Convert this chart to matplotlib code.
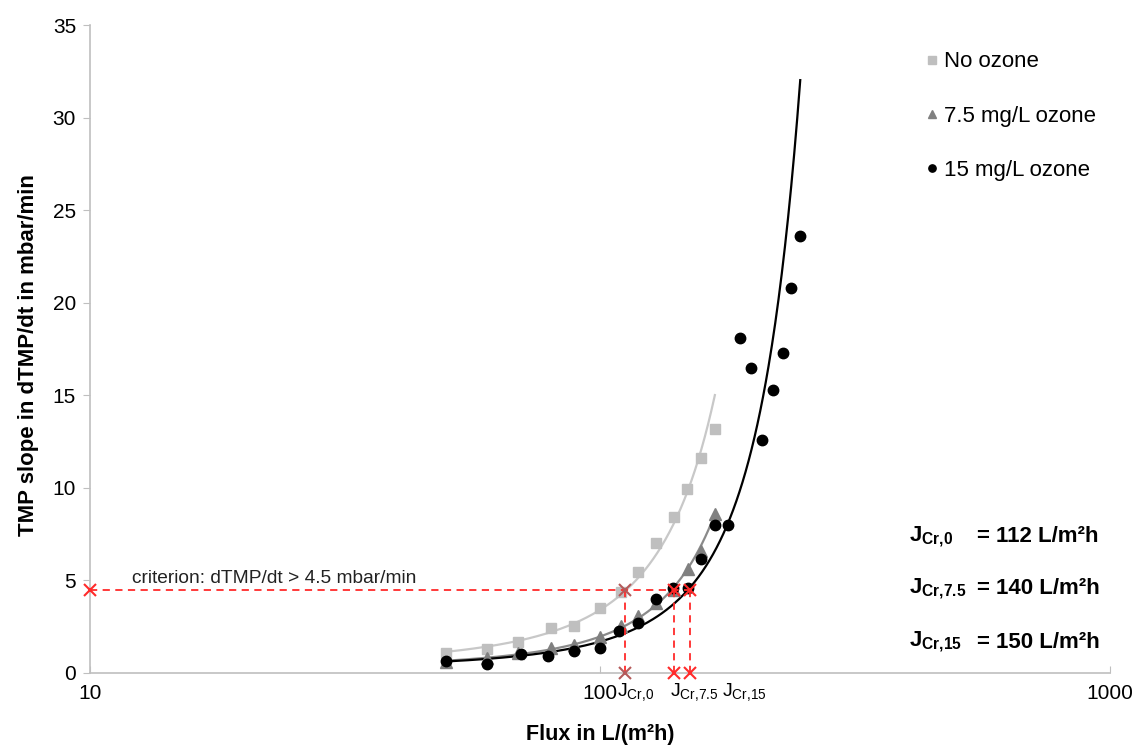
import numpy as np
import matplotlib
matplotlib.use("Agg")
import matplotlib.pyplot as plt
from matplotlib.transforms import blended_transform_factory

plt.rcParams['font.family'] = ['Liberation Sans', 'DejaVu Sans']
plt.rcParams['mathtext.fontset'] = 'custom'
plt.rcParams['mathtext.rm'] = 'Liberation Sans'
plt.rcParams['mathtext.it'] = 'Liberation Sans'
plt.rcParams['mathtext.bf'] = 'Liberation Sans:bold'

# --- data ---
flux_no = [50, 60, 69, 80, 89, 100, 110, 119, 129, 140, 148, 158, 168]
tmp_no = [1.1, 1.3, 1.7, 2.45, 2.55, 3.5, 4.4, 5.45, 7.0, 8.4, 9.95, 11.6, 13.2]

flux_75 = [50, 60, 69, 80, 89, 100, 110, 119, 129, 140, 149, 158, 168]
tmp_75 = [0.6, 0.8, 1.1, 1.35, 1.5, 1.95, 2.55, 3.1, 3.8, 4.5, 5.6, 6.6, 8.6]

flux_15 = [50, 60, 70, 79, 89, 100, 109, 119, 129, 139, 149, 158, 168, 178,
           188, 198, 208, 218, 228, 237, 247]
tmp_15 = [0.65, 0.49, 1.03, 0.92, 1.19, 1.34, 2.25, 2.69, 3.98, 4.58, 4.58,
          6.15, 8.0, 8.0, 18.1, 16.45, 12.6, 15.3, 17.3, 20.8, 23.6]

criterion = 4.5
j_crit = [112, 140, 150]
j_names = ["0", "7.5", "15"]

x_ticks = [10, 100, 1000]
y_ticks = [0, 5, 10, 15, 20, 25, 30, 35]

fig = plt.figure(figsize=(11.39, 7.49), dpi=100)
ax = fig.add_axes([0.079, 0.1015, 0.8955, 0.8651])
ax.set_xscale('log')
ax.set_xlim(10, 1000)
ax.set_ylim(0, 35)


def exp_fit(x, y, x_end):
    b, ln_a = np.polyfit(np.asarray(x, float), np.log(np.asarray(y, float)), 1)
    xs = np.linspace(min(x), x_end, 300)
    return xs, np.exp(ln_a) * np.exp(b * xs)


xs, ys = exp_fit(flux_no, tmp_no, max(flux_no))
ax.plot(xs, ys, color='#c8c8c8', lw=1.6, zorder=2)
xs, ys = exp_fit(flux_75, tmp_75, max(flux_75))
ax.plot(xs, ys, color='#8a8a8a', lw=1.6, zorder=2)
xs, ys = exp_fit(flux_15, tmp_15, max(flux_15))
ax.plot(xs, ys, color='#000000', lw=1.6, zorder=2)

ax.plot(flux_no, tmp_no, ls='none', marker='s', ms=7.5, color='#bfbfbf',
        mec='#bfbfbf', label='No ozone', zorder=3)
ax.plot(flux_75, tmp_75, ls='none', marker='^', ms=8, color='#808080',
        mec='#808080', label='7.5 mg/L ozone', zorder=3)
ax.plot(flux_15, tmp_15, ls='none', marker='o', ms=7.5, color='#000000',
        label='15 mg/L ozone', zorder=4)

# criterion lines
red = '#ff2a2a'
ax.plot([10, max(j_crit)], [criterion, criterion], color=red, lw=1.3,
        dashes=(4, 3), zorder=5)
for j in j_crit:
    ax.plot([j, j], [0, criterion], color=red, lw=1.3, dashes=(4, 3), zorder=5)
ax.plot([10], [criterion], ls='none', marker='x', ms=9, mew=1.5, color=red,
        clip_on=False, zorder=6)
for i, j in enumerate(j_crit):
    c = '#b45a5a' if i == 0 else red
    ax.plot([j, j], [criterion, 0], ls='none', marker='x', ms=9, mew=1.5,
            color=c, clip_on=False, zorder=6)

ax.text(12.1, 5.1, "criterion: dTMP/dt > 4.5 mbar/min", fontsize=13.8,
        va='center', ha='left', color='#222222')

# x sub labels
trans = blended_transform_factory(ax.transData, ax.transAxes)
lbl_x = [107.9, 137, 173.4]
for xv, n in zip(lbl_x, j_names):
    ax.text(xv, -0.012, r"J$_{\mathrm{Cr{,}%s}}$" % n, transform=trans,
            fontsize=14, va='top', ha='left')

# J_Cr values
for (yv, n, j) in zip([537, 589, 642], j_names, j_crit):
    fy = 1 - yv / 749
    fig.text(0.798, fy, r"$\mathbf{J_{Cr{,}%s}}$" % n, fontsize=16,
             va='center', ha='left', fontweight='bold')
    fig.text(0.858, fy, "= %d L/m²h" % j, fontsize=16, va='center',
             ha='left', fontweight='bold')

ax.legend(loc='upper left', bbox_to_anchor=(0.81, 0.973), frameon=False,
          fontsize=16, handlelength=0.6, handletextpad=0.25,
          labelspacing=1.5, markerscale=0.7, borderaxespad=0)

ax.set_xticks(x_ticks)
ax.set_xticklabels(["10", "100", "1000"])
ax.xaxis.set_minor_locator(matplotlib.ticker.NullLocator())
ax.set_yticks(y_ticks)
ax.tick_params(axis='x', direction='in', length=5, color='#bfbfbf',
               labelsize=15, pad=8)
ax.tick_params(axis='y', direction='out', length=5, color='#bfbfbf',
               labelsize=15, pad=5)
for s in ['top', 'right']:
    ax.spines[s].set_visible(False)
for s in ['left', 'bottom']:
    ax.spines[s].set_color('#bfbfbf')
    ax.spines[s].set_linewidth(1.2)

ax.set_xlabel("Flux in L/(m²h)", fontsize=15.5, fontweight='bold', labelpad=15)
ax.set_ylabel("TMP slope in dTMP/dt in mbar/min", fontsize=16,
              fontweight='bold', labelpad=10, y=0.49)

fig.savefig("out.png", dpi=100)
